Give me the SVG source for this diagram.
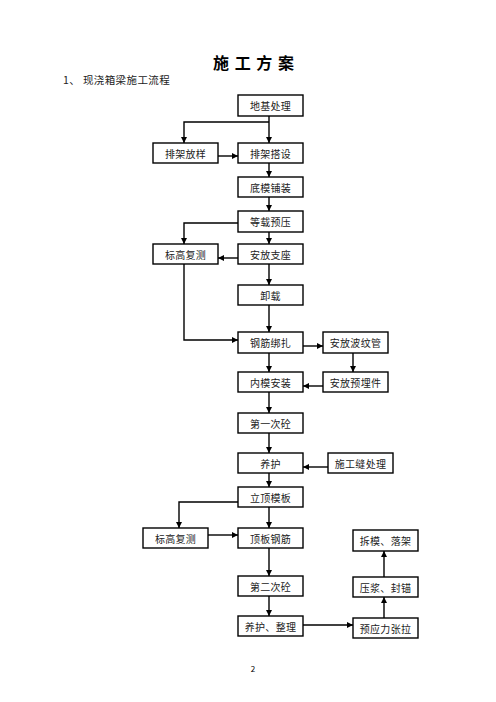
<svg xmlns="http://www.w3.org/2000/svg" width="496" height="702" viewBox="0 0 496 702">
<style>
.box rect{fill:#fff;stroke:#000;stroke-width:1.4}
.box text{font-family:"Noto Sans CJK SC","Liberation Serif",serif;font-size:10px;fill:#222;text-anchor:middle;dominant-baseline:central;letter-spacing:0.3px}
#edges path{fill:none;stroke:#000;stroke-width:1.4}
.t{font-family:"Noto Sans CJK SC","Liberation Serif",serif}
</style>
<defs>
<marker id="ar" markerUnits="userSpaceOnUse" markerWidth="7" markerHeight="7" refX="6" refY="3" orient="auto">
<path d="M0,0 L6,3 L0,6 Z" fill="#000"/>
</marker>
</defs>
<rect width="496" height="702" fill="#fff"/>
<text class="t" x="254" y="69" font-size="16" font-weight="bold" text-anchor="middle" letter-spacing="1">施 工 方 案</text>
<text class="t" x="63" y="84" font-size="10.5" fill="#222" letter-spacing="0.4">1、 现浇箱梁施工流程</text>

<g id="edges">
<path d="M269 116 V143" marker-end="url(#ar)"/>
<path d="M269 122 H184 V143" marker-end="url(#ar)"/>
<path d="M218 156 H238" marker-end="url(#ar)"/>
<path d="M269 163 V177" marker-end="url(#ar)"/>
<path d="M269 197 V211" marker-end="url(#ar)"/>
<path d="M269 232 V244" marker-end="url(#ar)"/>
<path d="M238 223 H184 V244" marker-end="url(#ar)"/>
<path d="M238 258 H218" marker-end="url(#ar)"/>
<path d="M269 264 V285" marker-end="url(#ar)"/>
<path d="M184 264 V340 H238" marker-end="url(#ar)"/>
<path d="M269 305 V332" marker-end="url(#ar)"/>
<path d="M303 346 H323" marker-end="url(#ar)"/>
<path d="M353 353 V372" marker-end="url(#ar)"/>
<path d="M323 386 H303" marker-end="url(#ar)"/>
<path d="M269 353 V372" marker-end="url(#ar)"/>
<path d="M269 392 V413" marker-end="url(#ar)"/>
<path d="M269 433 V453" marker-end="url(#ar)"/>
<path d="M328 467 H303" marker-end="url(#ar)"/>
<path d="M269 473 V487" marker-end="url(#ar)"/>
<path d="M269 507 V528" marker-end="url(#ar)"/>
<path d="M238 502 H179 V528" marker-end="url(#ar)"/>
<path d="M208 535 H238" marker-end="url(#ar)"/>
<path d="M269 548 V576" marker-end="url(#ar)"/>
<path d="M269 596 V616" marker-end="url(#ar)"/>
<path d="M303 625 H353" marker-end="url(#ar)"/>
<path d="M384 618 V597" marker-end="url(#ar)"/>
<path d="M384 577 V551" marker-end="url(#ar)"/>
</g>

<g id="n1" class="box"><rect x="238" y="95" width="65" height="21"/><text x="270.5" y="105.5">地基处理</text></g>
<g id="n2" class="box"><rect x="153" y="143" width="65" height="20"/><text x="185.5" y="153">排架放样</text></g>
<g id="n3" class="box"><rect x="238" y="143" width="65" height="20"/><text x="270.5" y="153">排架搭设</text></g>
<g id="n4" class="box"><rect x="238" y="177" width="65" height="20"/><text x="270.5" y="187">底模铺装</text></g>
<g id="n5" class="box"><rect x="238" y="211" width="65" height="21"/><text x="270.5" y="221.5">等载预压</text></g>
<g id="n6" class="box"><rect x="153" y="244" width="65" height="20"/><text x="185.5" y="254">标高复测</text></g>
<g id="n7" class="box"><rect x="238" y="244" width="65" height="20"/><text x="270.5" y="254">安放支座</text></g>
<g id="n8" class="box"><rect x="238" y="285" width="65" height="20"/><text x="270.5" y="295">卸载</text></g>
<g id="n9" class="box"><rect x="238" y="332" width="65" height="21"/><text x="270.5" y="342.5">钢筋绑扎</text></g>
<g id="n10" class="box"><rect x="323" y="332" width="65" height="21"/><text x="355.5" y="342.5">安放波纹管</text></g>
<g id="n11" class="box"><rect x="238" y="372" width="65" height="20"/><text x="270.5" y="382">内模安装</text></g>
<g id="n12" class="box"><rect x="323" y="372" width="65" height="20"/><text x="355.5" y="382">安放预埋件</text></g>
<g id="n13" class="box"><rect x="238" y="413" width="65" height="20"/><text x="270.5" y="423">第一次砼</text></g>
<g id="n14" class="box"><rect x="238" y="453" width="65" height="20"/><text x="270.5" y="463">养护</text></g>
<g id="n15" class="box"><rect x="328" y="453" width="65" height="20"/><text x="360.5" y="463">施工缝处理</text></g>
<g id="n16" class="box"><rect x="238" y="487" width="65" height="20"/><text x="270.5" y="497">立顶模板</text></g>
<g id="n17" class="box"><rect x="143" y="528" width="65" height="20"/><text x="175.5" y="538">标高复测</text></g>
<g id="n18" class="box"><rect x="238" y="528" width="65" height="20"/><text x="270.5" y="538">顶板钢筋</text></g>
<g id="n19" class="box"><rect x="238" y="576" width="65" height="20"/><text x="270.5" y="586">第二次砼</text></g>
<g id="n20" class="box"><rect x="238" y="616" width="65" height="20"/><text x="270.5" y="626">养护、整理</text></g>
<g id="n21" class="box"><rect x="353" y="618" width="65" height="20"/><text x="385.5" y="628">预应力张拉</text></g>
<g id="n22" class="box"><rect x="353" y="577" width="65" height="20"/><text x="385.5" y="587">压浆、封锚</text></g>
<g id="n23" class="box"><rect x="353" y="530" width="65" height="21"/><text x="385.5" y="540.5">拆模、落架</text></g>

<text class="t" x="253" y="672" font-size="8" text-anchor="middle">2</text>
</svg>
